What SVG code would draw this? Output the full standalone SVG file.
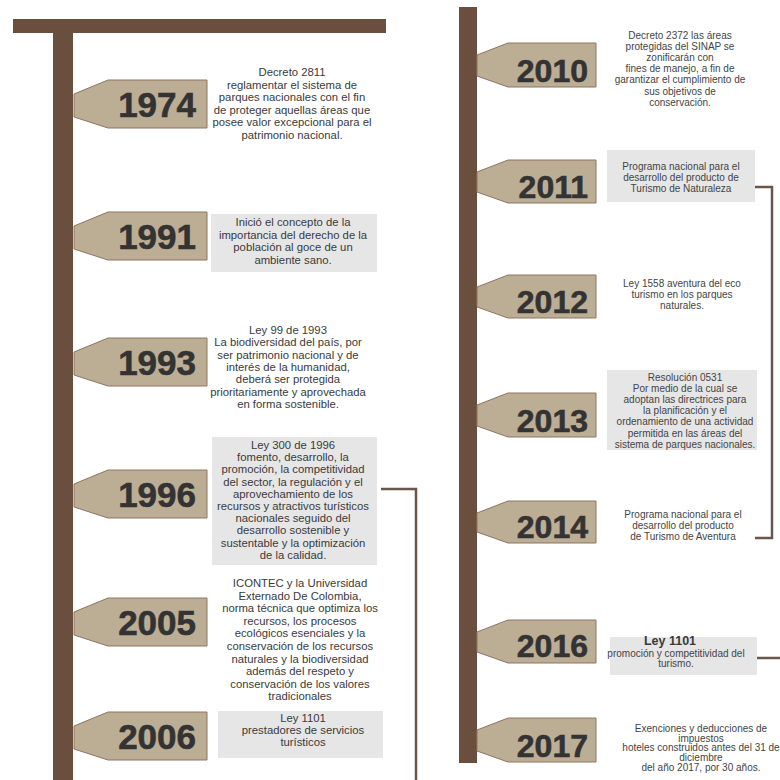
<svg xmlns="http://www.w3.org/2000/svg" width="780" height="780" viewBox="0 0 780 780">
<style>
.post{fill:#6a4f3f}
.flag{fill:#bcae94;stroke:#8e7560;stroke-width:1}
.year{font-family:"Liberation Sans",Arial,sans-serif;font-weight:bold;fill:#333333;text-anchor:end;stroke:#333333;stroke-width:0.6}
.yl{font-size:35px}
.yr{font-size:32px}
.t{font-family:"Liberation Sans",Arial,sans-serif;fill:#3a3a3a;text-anchor:middle}
.tl{font-size:11.3px}
.tr{font-size:10px;fill:#444444}
.box{fill:#e6e6e7}
.conn{fill:none;stroke:#6b564b;stroke-width:2.5}
</style>
<rect width="780" height="780" fill="#ffffff"/>
<g id="frame">
<rect class="post" x="13" y="19" width="373" height="14"/>
<rect class="post" x="53" y="19" width="20" height="761"/>
<rect class="post" x="459" y="7" width="18" height="756"/>
</g>
<g id="connectors">
<polyline class="conn" points="381,489 416,489 416,780"/>
<polyline class="conn" points="755,187 772,187 772,538 755,538"/>
<polyline class="conn" points="753,658 780,658"/>
</g>
<g id="n1974">
<polygon class="flag" points="108,80 207,80 207,128 108,128 74,117 74,94"/>
<text class="year yl" x="196" y="117">1974</text>
<text class="t tl" x="292" y="76"><tspan x="292">Decreto 2811</tspan><tspan x="292" dy="12.6">reglamentar  el sistema de</tspan><tspan x="292" dy="12.6">parques nacionales con el fin</tspan><tspan x="292" dy="12.6">de proteger aquellas áreas que</tspan><tspan x="292" dy="12.6">posee valor excepcional para el</tspan><tspan x="292" dy="12.6">patrimonio nacional.</tspan></text>
</g>
<g id="n1991">
<polygon class="flag" points="108,212 207,212 207,260 108,260 74,249 74,226"/>
<text class="year yl" x="196" y="249">1991</text>
<rect class="box" x="211" y="214" width="166" height="58"/>
<text class="t tl" x="293" y="226"><tspan x="293">Inició el concepto de la</tspan><tspan x="293" dy="12.6">importancia del derecho de la</tspan><tspan x="293" dy="12.6">población al goce de un</tspan><tspan x="293" dy="12.6">ambiente sano.</tspan></text>
</g>
<g id="n1993">
<polygon class="flag" points="108,338 207,338 207,386 108,386 74,375 74,352"/>
<text class="year yl" x="196" y="375">1993</text>
<text class="t tl" x="288" y="334"><tspan x="288">Ley 99 de 1993</tspan><tspan x="288" dy="12.3">La biodiversidad del país, por</tspan><tspan x="288" dy="12.3">ser patrimonio nacional y de</tspan><tspan x="288" dy="12.3">interés de la humanidad,</tspan><tspan x="288" dy="12.3">deberá ser protegida</tspan><tspan x="288" dy="12.3">prioritariamente y aprovechada</tspan><tspan x="288" dy="12.3">en forma sostenible.</tspan></text>
</g>
<g id="n1996">
<polygon class="flag" points="108,470 207,470 207,518 108,518 74,507 74,484"/>
<text class="year yl" x="196" y="507">1996</text>
<rect class="box" x="212" y="437" width="165" height="128"/>
<text class="t tl" x="293" y="449"><tspan x="293">Ley 300 de 1996</tspan><tspan x="293" dy="12.2">fomento, desarrollo, la</tspan><tspan x="293" dy="12.2">promoción, la competitividad</tspan><tspan x="293" dy="12.2">del sector, la regulación y el</tspan><tspan x="293" dy="12.2">aprovechamiento de los</tspan><tspan x="293" dy="12.2">recursos y atractivos turísticos</tspan><tspan x="293" dy="12.2">nacionales seguido del</tspan><tspan x="293" dy="12.2">desarrollo sostenible y</tspan><tspan x="293" dy="12.2">sustentable y la optimización</tspan><tspan x="293" dy="12.2">de la calidad.</tspan></text>
</g>
<g id="n2005">
<polygon class="flag" points="108,598 207,598 207,646 108,646 74,635 74,612"/>
<text class="year yl" x="196" y="635">2005</text>
<text class="t tl" x="300" y="587"><tspan x="300">ICONTEC y la Universidad</tspan><tspan x="300" dy="12.6">Externado De Colombia,</tspan><tspan x="300" dy="12.6">norma técnica que optimiza los</tspan><tspan x="300" dy="12.6">recursos, los procesos</tspan><tspan x="300" dy="12.6">ecológicos esenciales y la</tspan><tspan x="300" dy="12.6">conservación de los recursos</tspan><tspan x="300" dy="12.6">naturales y la biodiversidad</tspan><tspan x="300" dy="12.6">además del respeto y</tspan><tspan x="300" dy="12.6">conservación de los valores</tspan><tspan x="300" dy="12.6">tradicionales</tspan></text>
</g>
<g id="n2006">
<polygon class="flag" points="108,712 207,712 207,760 108,760 74,749 74,726"/>
<text class="year yl" x="196" y="749">2006</text>
<rect class="box" x="218" y="711" width="165" height="47"/>
<text class="t tl" x="303" y="722"><tspan x="303">Ley 1101</tspan><tspan x="303" dy="12">prestadores de servicios</tspan><tspan x="303" dy="12">turísticos</tspan></text>
</g>
<g id="n2010">
<polygon class="flag" points="508,43 596,43 596,87 508,87 477,76 477,55"/>
<text class="year yr" x="588" y="82">2010</text>
<text class="t tr" x="680" y="38.5"><tspan x="680">Decreto 2372 las áreas</tspan><tspan x="680" dy="11.2">protegidas del SINAP se</tspan><tspan x="680" dy="11.2">zonificarán con</tspan><tspan x="680" dy="11.2">fines de manejo, a fin de</tspan><tspan x="680" dy="11.2">garantizar el cumplimiento de</tspan><tspan x="680" dy="11.2">sus objetivos de</tspan><tspan x="680" dy="11.2">conservación.</tspan></text>
</g>
<g id="n2011">
<polygon class="flag" points="508,160 596,160 596,203 508,203 477,192 477,172"/>
<text class="year yr" x="588" y="198">2011</text>
<rect class="box" x="607" y="150" width="148" height="52"/>
<text class="t tr" x="681" y="169.5"><tspan x="681">Programa nacional para el</tspan><tspan x="681" dy="11">desarrollo del producto de</tspan><tspan x="681" dy="11">Turismo de Naturaleza</tspan></text>
</g>
<g id="n2012">
<polygon class="flag" points="508,275 596,275 596,318 508,318 477,307 477,287"/>
<text class="year yr" x="588" y="313">2012</text>
<text class="t tr" x="682" y="286.5"><tspan x="682">Ley 1558 aventura del eco</tspan><tspan x="682" dy="11">turismo en los parques</tspan><tspan x="682" dy="11">naturales.</tspan></text>
</g>
<g id="n2013">
<polygon class="flag" points="508,393 596,393 596,437 508,437 477,426 477,405"/>
<text class="year yr" x="588" y="432">2013</text>
<rect class="box" x="607" y="370" width="150" height="80"/>
<text class="t tr" x="685" y="380.5"><tspan x="685">Resolución 0531</tspan><tspan x="685" dy="11.2">Por medio de la cual se</tspan><tspan x="685" dy="11.2">adoptan las directrices para</tspan><tspan x="685" dy="11.2">la planificación y el</tspan><tspan x="685" dy="11.2">ordenamiento de una actividad</tspan><tspan x="685" dy="11.2">permitida en las áreas del</tspan><tspan x="685" dy="11.2">sistema de parques nacionales.</tspan></text>
</g>
<g id="n2014">
<polygon class="flag" points="508,501 596,501 596,543 508,543 477,532 477,513"/>
<text class="year yr" x="588" y="538">2014</text>
<text class="t tr" x="683" y="517.5"><tspan x="683">Programa nacional para el</tspan><tspan x="683" dy="11">desarrollo del producto</tspan><tspan x="683" dy="11">de Turismo de Aventura</tspan></text>
</g>
<g id="n2016">
<polygon class="flag" points="508,620 596,620 596,663 508,663 477,652 477,632"/>
<text class="year yr" x="588" y="657">2016</text>
<rect class="box" x="610" y="637" width="147" height="38"/>
<text class="t" x="670" y="645" font-size="12.5" font-weight="bold" fill="#333333">Ley 1101</text>
<text class="t tr" x="676" y="656.5"><tspan x="676">promoción y competitividad del</tspan><tspan x="676" dy="10.5">turismo.</tspan></text>
</g>
<g id="n2017">
<polygon class="flag" points="508,718 596,718 596,762 508,762 477,751 477,730"/>
<text class="year yr" x="588" y="757">2017</text>
<text class="t tr" x="701" y="732" font-size="9.4"><tspan x="701">Exenciones y deducciones de</tspan><tspan x="701" dy="9.7">impuestos</tspan><tspan x="701" dy="9.7">hoteles construidos antes del 31 de</tspan><tspan x="701" dy="9.7">diciembre</tspan><tspan x="701" dy="9.7">del año 2017, por 30 años.</tspan></text>
</g>
</svg>
